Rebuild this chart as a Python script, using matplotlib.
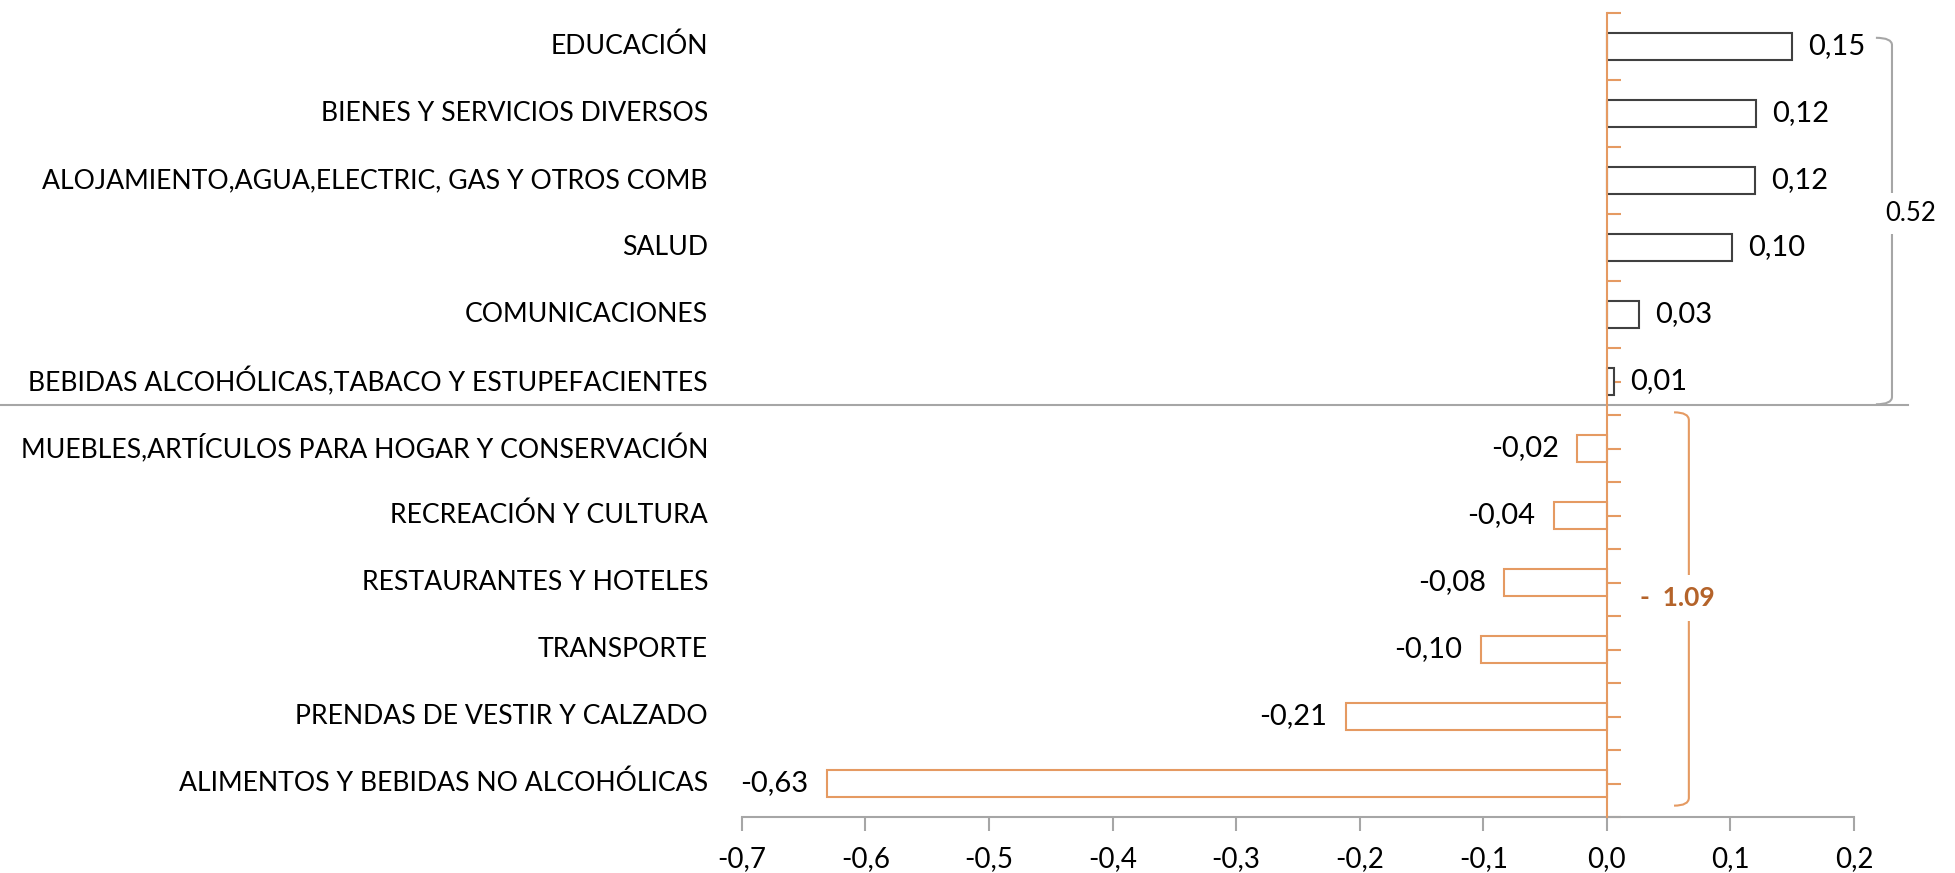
import matplotlib
matplotlib.use("Agg")
import matplotlib.pyplot as plt
from matplotlib.path import Path
from matplotlib.patches import PathPatch
from matplotlib.transforms import blended_transform_factory

plt.rcParams["font.family"] = ["Lato", "DejaVu Sans"]

categories = [
    "EDUCACIÓN",
    "BIENES Y SERVICIOS DIVERSOS",
    "ALOJAMIENTO,AGUA,ELECTRIC, GAS Y OTROS COMB",
    "SALUD",
    "COMUNICACIONES",
    "BEBIDAS ALCOHÓLICAS,TABACO Y ESTUPEFACIENTES",
    "MUEBLES,ARTÍCULOS PARA HOGAR Y CONSERVACIÓN",
    "RECREACIÓN Y CULTURA",
    "RESTAURANTES Y HOTELES",
    "TRANSPORTE",
    "PRENDAS DE VESTIR Y CALZADO",
    "ALIMENTOS Y BEBIDAS NO ALCOHÓLICAS",
]
values = [0.150, 0.121, 0.120, 0.101, 0.026, 0.006,
          -0.024, -0.043, -0.083, -0.102, -0.211, -0.631]
positive_total = "0.52"
negative_total = "-  1.09"
x_ticks = [-0.7, -0.6, -0.5, -0.4, -0.3, -0.2, -0.1, 0.0, 0.1, 0.2]

ORANGE = "#E59A62"
DARK = "#404040"
GRAY = "#A6A6A6"
BROWN = "#B4632A"


def fmt(v):
    return f"{v:.2f}".replace(".", ",")


def bracket(ax, x, y0, y1, hook, color):
    # right-hand bracket with rounded corners, in data coords
    r = (y1 - y0) * 0.02
    verts = [
        (x - hook, y0), (x, y0), (x, y0 + r),
        (x, y1 - r),
        (x, y1), (x - hook, y1),
    ]
    codes = [Path.MOVETO, Path.CURVE3, Path.CURVE3,
             Path.LINETO, Path.CURVE3, Path.CURVE3]
    ax.add_patch(PathPatch(Path(verts, codes), fill=False, edgecolor=color,
                           linewidth=1.5, clip_on=False))


fig = plt.figure(figsize=(19.55, 8.73), dpi=100)
ax = fig.add_axes([0.3795, 0.0641, 0.5688, 0.9210])

ypos = list(range(len(categories)))
for y, v in zip(ypos, values):
    edge = DARK if v >= 0 else ORANGE
    ax.barh(y, v, height=0.41, color="white", edgecolor=edge, linewidth=1.5,
            zorder=2)
    if v >= 0:
        ax.text(v + 0.013, y, fmt(v), ha="left", va="center", fontsize=21)
    else:
        ax.text(v - 0.015, y, fmt(v), ha="right", va="center", fontsize=21)

ax.set_xlim(-0.7, 0.2)
ax.set_ylim(len(categories) - 0.5, -0.5)

# vertical axis at zero
ax.spines["left"].set_position(("data", 0))
ax.spines["left"].set_color(ORANGE)
ax.spines["left"].set_linewidth(1.5)
ax.spines["left"].set_zorder(3)
ax.set_yticks([i * 0.5 - 0.5 for i in range(2 * len(categories) + 1)])
ax.tick_params(axis="y", direction="in", length=10, width=1.5, color=ORANGE,
               labelleft=False)

ax.spines["top"].set_visible(False)
ax.spines["right"].set_visible(False)
ax.spines["bottom"].set_color(GRAY)
ax.spines["bottom"].set_linewidth(1.5)
ax.set_xticks(x_ticks)
ax.set_xticklabels([f"{t:.1f}".replace(".", ",") for t in x_ticks], fontsize=20)
ax.tick_params(axis="x", direction="out", length=10, width=1.5, color=GRAY,
               pad=11)

# category labels
ytrans = blended_transform_factory(fig.transFigure, ax.transData)
for y, name in zip(ypos, categories):
    ax.text(708 / 1955, y, name, transform=ytrans, ha="right", va="center",
            fontsize=19.2)

# divider between positive and negative groups
ax.plot([0, 1908 / 1955], [5.35, 5.35], transform=ytrans, color=GRAY,
        linewidth=1.5, clip_on=False)

# group brackets
bracket(ax, 0.2308, -0.13, 5.34, 0.013, GRAY)
ax.text(0.2455, 2.49, positive_total, ha="center", va="center", fontsize=18.5,
        bbox=dict(facecolor="white", edgecolor="none", pad=6), zorder=5)

bracket(ax, 0.0664, 5.46, 11.33, 0.012, ORANGE)
ax.text(0.0575, 8.23, negative_total, ha="center", va="center", fontsize=19,
        fontweight="bold", color=BROWN,
        bbox=dict(facecolor="white", edgecolor="none", pad=8), zorder=5)

fig.savefig("out.png", dpi=100)
